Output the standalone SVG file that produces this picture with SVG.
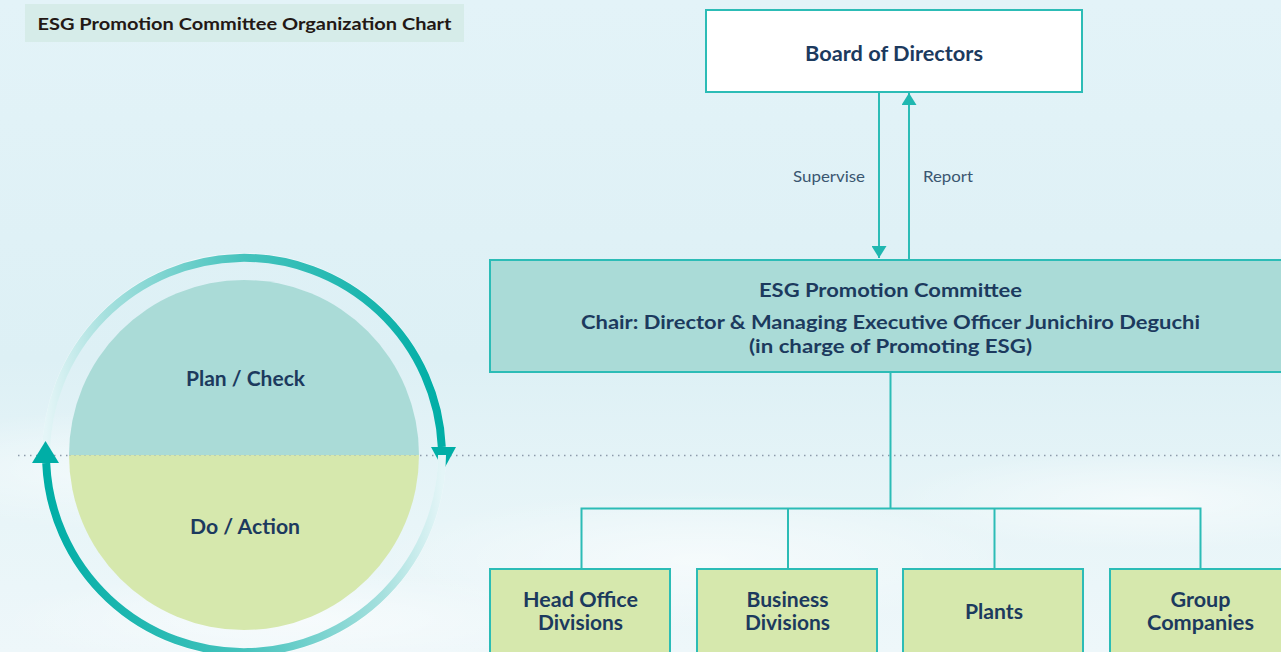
<svg xmlns="http://www.w3.org/2000/svg" width="1281" height="652" viewBox="0 0 1281 652">
<style>
  .t { font-family: Lato, "Noto Sans", "Liberation Sans", sans-serif; font-weight: 700; fill: #1c3a5e; text-anchor: middle; }
  .lbl { font-family: Lato, "Noto Sans", "Liberation Sans", sans-serif; font-weight: 400; fill: #3a5670; font-size: 15px; text-anchor: middle; }
  .box { stroke: #2cbcb6; stroke-width: 2; }
  .teal { fill: #aadbd7; }
  .green { fill: #d6e8ad; }
  .conn { stroke: #2cbcb6; stroke-width: 2; fill: none; }
</style>
<defs>
  <linearGradient id="bg" x1="0" y1="0" x2="0" y2="1">
    <stop offset="0" stop-color="#e3f3f8"/>
    <stop offset="0.55" stop-color="#ddf0f5"/>
    <stop offset="0.8" stop-color="#e8f5f8"/>
    <stop offset="1" stop-color="#eef7fa"/>
  </linearGradient>
  <radialGradient id="cloud" cx="0.5" cy="0.5" r="0.5">
    <stop offset="0" stop-color="#ffffff" stop-opacity="0.55"/>
    <stop offset="1" stop-color="#ffffff" stop-opacity="0"/>
  </radialGradient>
  <linearGradient id="arcTop" gradientUnits="userSpaceOnUse" x1="46" y1="0" x2="442" y2="0">
    <stop offset="0" stop-color="#e4f5f7"/>
    <stop offset="0.15" stop-color="#a6e0de"/>
    <stop offset="0.5" stop-color="#45c3bd"/>
    <stop offset="1" stop-color="#00aea6"/>
  </linearGradient>
  <linearGradient id="arcBot" gradientUnits="userSpaceOnUse" x1="442" y1="0" x2="46" y2="0">
    <stop offset="0" stop-color="#e4f5f7"/>
    <stop offset="0.15" stop-color="#a6e0de"/>
    <stop offset="0.5" stop-color="#45c3bd"/>
    <stop offset="1" stop-color="#00aea6"/>
  </linearGradient>
  <marker id="ah" viewBox="0 0 12 15" refX="12" refY="7.5" markerWidth="12" markerHeight="15" markerUnits="userSpaceOnUse" orient="auto">
    <path d="M0,0 L12,7.5 L0,15 Z" fill="#1fb7b0"/>
  </marker>
</defs>

<!-- background -->
<rect x="0" y="0" width="1281" height="652" fill="url(#bg)"/>
<ellipse cx="120" cy="470" rx="260" ry="60" fill="url(#cloud)"/>
<ellipse cx="700" cy="560" rx="320" ry="70" fill="url(#cloud)"/>
<ellipse cx="1150" cy="500" rx="260" ry="50" fill="url(#cloud)"/>
<ellipse cx="300" cy="620" rx="300" ry="50" fill="url(#cloud)"/>

<!-- title -->
<g id="title">
  <rect x="25" y="4" width="439" height="38" fill="#d6ece9"/>
  <text x="244.5" y="29.5" font-family="Lato, 'Noto Sans', 'Liberation Sans', sans-serif" font-weight="700" font-size="17" fill="#231815" text-anchor="middle" textLength="414" lengthAdjust="spacingAndGlyphs">ESG Promotion Committee Organization Chart</text>
</g>

<!-- dotted divider -->
<line x1="18" y1="455.5" x2="1281" y2="455.5" stroke="#8d9bab" stroke-width="1.5" stroke-dasharray="1.5 4.5"/>

<!-- PDCA cycle -->
<g id="cycle">
  <circle cx="244" cy="455" r="198" fill="none" stroke="#ffffff" stroke-opacity="0.45" stroke-width="8"/>
  <path d="M 46 455 A 198 198 0 0 1 441.8 447" fill="none" stroke="url(#arcTop)" stroke-width="8"/>
  <polygon points="431,447 456,447 443.5,470" fill="#00aea6"/>
  <path d="M 442 455 A 198 198 0 0 1 46.2 463" fill="none" stroke="url(#arcBot)" stroke-width="8"/>
  <polygon points="32,463 59,463 45.5,441" fill="#00aea6"/>
</g>
<g id="plan-check">
  <path d="M 69 455 A 175 175 0 0 1 419 455 Z" class="teal"/>
  <text class="t" x="245.5" y="386" font-size="20.5" textLength="119" lengthAdjust="spacingAndGlyphs">Plan / Check</text>
</g>
<g id="do-action">
  <path d="M 69 455 A 175 175 0 0 0 419 455 Z" class="green"/>
  <text class="t" x="245" y="534" font-size="20.5" textLength="110" lengthAdjust="spacingAndGlyphs">Do / Action</text>
</g>
<line x1="69" y1="455.5" x2="419" y2="455.5" stroke="#9fb3b8" stroke-width="1" stroke-dasharray="2 3" stroke-opacity="0.5"/>

<!-- connectors -->
<g id="connectors">
  <line class="conn" x1="879" y1="93" x2="879" y2="258" marker-end="url(#ah)"/>
  <line class="conn" x1="909" y1="260" x2="909" y2="93" marker-end="url(#ah)"/>
  <text class="lbl" x="829" y="182" textLength="72" lengthAdjust="spacingAndGlyphs">Supervise</text>
  <text class="lbl" x="948" y="182" textLength="50" lengthAdjust="spacingAndGlyphs">Report</text>
  <line class="conn" x1="890.5" y1="373" x2="890.5" y2="508.5"/>
  <polyline class="conn" points="581.5,569 581.5,508.5 1200.5,508.5 1200.5,569"/>
  <line class="conn" x1="788" y1="508.5" x2="788" y2="569"/>
  <line class="conn" x1="994.5" y1="508.5" x2="994.5" y2="569"/>
</g>

<!-- nodes -->
<g id="board">
  <rect class="box" x="706" y="10" width="376" height="82" fill="#ffffff"/>
  <text class="t" x="894" y="60.5" font-size="20.5" textLength="178" lengthAdjust="spacingAndGlyphs">Board of Directors</text>
</g>
<g id="committee">
  <rect class="box teal" x="490" y="260" width="800" height="112"/>
  <text class="t" x="890.5" y="297" font-size="19.5" textLength="263" lengthAdjust="spacingAndGlyphs">ESG Promotion Committee</text>
  <text class="t" x="890.5" y="328.5" font-size="19.5" textLength="619" lengthAdjust="spacingAndGlyphs">Chair: Director &amp; Managing Executive Officer Junichiro Deguchi</text>
  <text class="t" x="890.5" y="353" font-size="19.5" textLength="283" lengthAdjust="spacingAndGlyphs">(in charge of Promoting ESG)</text>
</g>
<g id="head-office">
  <rect class="box green" x="490" y="569" width="180" height="95"/>
  <text class="t" x="580.5" y="607" font-size="20" textLength="115" lengthAdjust="spacingAndGlyphs">Head Office</text>
  <text class="t" x="580.5" y="630" font-size="20" textLength="85" lengthAdjust="spacingAndGlyphs">Divisions</text>
</g>
<g id="business">
  <rect class="box green" x="697" y="569" width="180" height="95"/>
  <text class="t" x="787.5" y="607" font-size="20" textLength="82" lengthAdjust="spacingAndGlyphs">Business</text>
  <text class="t" x="787.5" y="630" font-size="20" textLength="85" lengthAdjust="spacingAndGlyphs">Divisions</text>
</g>
<g id="plants">
  <rect class="box green" x="903" y="569" width="180" height="95"/>
  <text class="t" x="994" y="619" font-size="20" textLength="58" lengthAdjust="spacingAndGlyphs">Plants</text>
</g>
<g id="group">
  <rect class="box green" x="1110" y="569" width="190" height="95"/>
  <text class="t" x="1200.5" y="607" font-size="20" textLength="60" lengthAdjust="spacingAndGlyphs">Group</text>
  <text class="t" x="1200.5" y="630" font-size="20" textLength="107" lengthAdjust="spacingAndGlyphs">Companies</text>
</g>
</svg>
